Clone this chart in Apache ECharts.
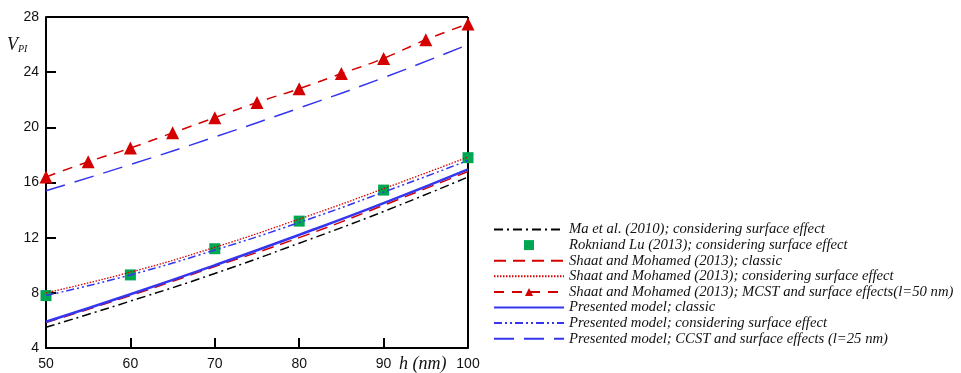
<!DOCTYPE html>
<html>
<head>
<meta charset="utf-8">
<script src="https://cdn.jsdelivr.net/npm/echarts@6/dist/echarts.min.js"></script>
<style>
  html, body { margin: 0; padding: 0; background: #fff; }
  #chart { width: 961px; height: 373px; }
</style>
</head>
<body>
<div id="chart"></div>
<script>
// h (nm) values for the curves
const hLine = [50, 60, 70, 80, 90, 100];
const hMarks = [50, 55, 60, 65, 70, 75, 80, 85, 90, 95, 100];
const yTicks = [4, 8, 12, 16, 20, 24, 28];

const maSurface = [5.5, 7.4, 9.4, 11.6, 13.9, 16.4];
const rokniSurface = [7.8, 9.3, 11.2, 13.2, 15.45, 17.8];
const shaatClassic = [5.85, 7.8, 9.9, 12.0, 14.35, 16.8];
const shaatSurface = [8.0, 9.5, 11.3, 13.35, 15.55, 17.85];
const shaatMcst = [16.4, 17.5, 18.5, 19.6, 20.7, 21.8, 22.8, 23.9, 25.0, 26.35, 27.5];
const presClassic = [5.9, 7.9, 10.0, 12.2, 14.5, 16.95];
const presSurface = [7.8, 9.3, 11.1, 13.1, 15.3, 17.6];
const presCcst = [15.4, 17.3, 19.3, 21.4, 23.6, 26.0];

const names = [
  'Ma et al. (2010); considering surface effect',
  'Rokniand Lu (2013); considering surface effect',
  'Shaat and Mohamed (2013); classic',
  'Shaat and Mohamed (2013); considering surface effect',
  'Shaat and Mohamed (2013); MCST and surface effects(l=50 nm)',
  'Presented model; classic',
  'Presented model; considering surface effect',
  'Presented model; CCST and surface effects (l=25 nm)'
];

const RED = '#d40000';
const BLUE = '#3535f0';
const GREEN = '#00a651';

const pairs = (xs, ys) => xs.map((x, i) => [x, ys[i]]);

const lineSeries = (name, xs, ys, color, type, width) => ({
  name: name,
  type: 'line',
  data: pairs(xs, ys),
  smooth: true,
  symbol: 'none',
  lineStyle: { color: color, type: type, width: width },
  itemStyle: { color: color }
});

// legend entries: hide the circle that echarts adds to plain lines
const legendData = names.map((n, i) => {
  if (i === 1) return { name: n, icon: 'path://M0,0L10,0L10,10L0,10Z' };
  if (i === 4) return { name: n };
  return { name: n, itemStyle: { opacity: 0 } };
});

const chart = echarts.init(document.getElementById('chart'));
chart.setOption({
  animation: false,
  backgroundColor: '#fff',
  grid: { left: 46, right: 493, top: 17, bottom: 25 },
  xAxis: {
    type: 'value',
    min: 50, max: 100, interval: 10,
    axisLine: { lineStyle: { color: '#000', width: 2 } },
    axisTick: { inside: true, length: 10, lineStyle: { color: '#000', width: 2 } },
    axisLabel: { color: '#111', fontSize: 14, fontFamily: 'Liberation Sans', margin: 9 },
    splitLine: { show: false }
  },
  yAxis: {
    type: 'value',
    min: 4, max: 28, interval: 4,
    axisLine: { show: true, lineStyle: { color: '#000', width: 2 } },
    axisTick: { show: true, inside: true, length: 10, lineStyle: { color: '#000', width: 2 } },
    axisLabel: {
      color: '#111', fontSize: 14, fontFamily: 'Liberation Sans', margin: 7,
      formatter: v => (yTicks.includes(v) ? String(v) : '')
    },
    splitLine: { show: false }
  },
  legend: {
    orient: 'vertical',
    left: 488, top: 217,
    itemWidth: 70, itemHeight: 10,
    itemGap: 0.6,
    textStyle: { fontFamily: 'Liberation Serif', fontStyle: 'italic', fontSize: 14.7, color: '#111', lineHeight: 14.5 },
    data: legendData
  },
  graphic: [
    // frame: top and right borders
    { type: 'line', shape: { x1: 46, y1: 17, x2: 468, y2: 17 }, style: { stroke: '#000', lineWidth: 2 } },
    { type: 'line', shape: { x1: 468, y1: 17, x2: 468, y2: 348 }, style: { stroke: '#000', lineWidth: 2 } },
    {
      type: 'text', left: 7, top: 36,
      style: {
        text: '{v|V}{s|PI}',
        rich: {
          v: { fontFamily: 'Liberation Serif', fontStyle: 'italic', fontSize: 18, fill: '#111' },
          s: { fontFamily: 'Liberation Serif', fontStyle: 'italic', fontSize: 10, fill: '#111', padding: [8, 0, 0, 0] }
        }
      }
    },
    {
      type: 'text', left: 399, top: 355,
      style: { text: 'h (nm)', fontFamily: 'Liberation Serif', fontStyle: 'italic', fontSize: 18, fill: '#111' }
    }
  ],
  series: [
    lineSeries(names[0], hLine, maSurface, '#000', [9, 4, 2, 4], 1.5),
    {
      name: names[1],
      type: 'scatter',
      data: pairs(hLine, rokniSurface),
      symbol: 'rect',
      symbolSize: 11,
      itemStyle: { color: GREEN, opacity: 1 }
    },
    lineSeries(names[2], hLine, shaatClassic, RED, [12, 7], 1.5),
    lineSeries(names[3], hLine, shaatSurface, RED, [1.5, 1.5], 1.3),
    {
      name: names[4],
      type: 'line',
      data: pairs(hMarks, shaatMcst),
      smooth: true,
      symbol: 'triangle',
      symbolSize: 13,
      lineStyle: { color: RED, type: [10, 8], width: 1.5 },
      itemStyle: { color: RED }
    },
    lineSeries(names[5], hLine, presClassic, BLUE, 'solid', 2.5),
    lineSeries(names[6], hLine, presSurface, BLUE, [8, 3, 2, 3, 2, 3], 1.5),
    lineSeries(names[7], hLine, presCcst, BLUE, [20, 10], 1.5)
  ]
});
</script>
</body>
</html>
